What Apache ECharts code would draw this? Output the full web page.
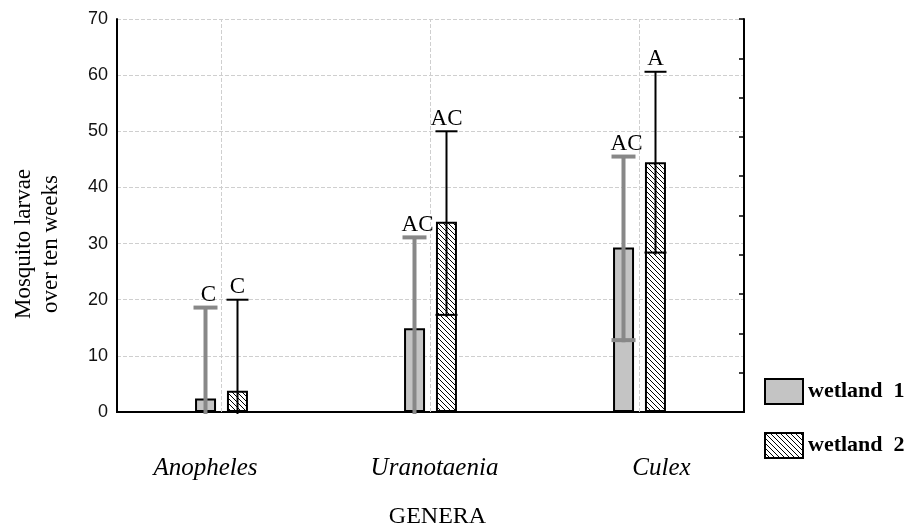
<!DOCTYPE html>
<html>
<head>
<meta charset="utf-8">
<script src="https://cdn.jsdelivr.net/npm/echarts@6/dist/echarts.min.js"></script>
<style>
  html, body { margin: 0; padding: 0; background: #fff; }
  #chart { width: 917px; height: 526px; }
</style>
</head>
<body>
<div id="chart"></div>
<script>
const categories = ['Anopheles', 'Uranotaenia', 'Culex'];
const wetland1Mean = [2.4, 14.9, 29.3];
const wetland1Lower = [0, 0, 12.8];
const wetland1Upper = [18.6, 31.1, 45.5];
const wetland1Letters = ['C', 'AC', 'AC'];
const wetland2Mean = [3.8, 33.9, 44.5];
const wetland2Lower = [0, 17.3, 28.4];
const wetland2Upper = [20.0, 50.0, 60.6];
const wetland2Letters = ['C', 'AC', 'A'];
const yTicks = [0, 10, 20, 30, 40, 50, 60, 70];

const serif = 'Liberation Serif, Times New Roman, serif';
const sans = 'Liberation Sans, Arial, sans-serif';

// diagonal hatch for wetland 2
function hatch() {
  const c = document.createElement('canvas');
  c.width = 5; c.height = 5;
  const ctx = c.getContext('2d');
  ctx.fillStyle = '#fff';
  ctx.fillRect(0, 0, 5, 5);
  ctx.strokeStyle = '#000';
  ctx.lineWidth = 1;
  ctx.beginPath();
  ctx.moveTo(-1, -1); ctx.lineTo(6, 6);
  ctx.moveTo(-1, 4); ctx.lineTo(1, 6);
  ctx.moveTo(4, -1); ctx.lineTo(6, 1);
  ctx.stroke();
  return c;
}

function errorSeries(name, lower, upper, letters, offset, color, width, capW) {
  return {
    name: name + ' err',
    type: 'custom',
    z: 5,
    data: categories.map((c, i) => [i, lower[i], upper[i]]),
    renderItem: function (params, api) {
      const lo = api.coord([api.value(0), api.value(1)]);
      const hi = api.coord([api.value(0), api.value(2)]);
      const x = lo[0] + offset;
      const st = { stroke: color, lineWidth: width };
      const kids = [
        { type: 'line', shape: { x1: x, y1: lo[1] + 2, x2: x, y2: hi[1] }, style: st },
        { type: 'line', shape: { x1: x - capW / 2, y1: hi[1], x2: x + capW / 2, y2: hi[1] }, style: st },
        { type: 'text', x: x + (offset < 0 ? 3 : 0), y: hi[1] - 1, style: {
            text: letters[params.dataIndex], fill: '#000', font: '23px ' + serif,
            align: 'center', verticalAlign: 'bottom' } }
      ];
      if (api.value(1) > 0) {
        kids.push({ type: 'line', shape: { x1: x - capW / 2, y1: lo[1], x2: x + capW / 2, y2: lo[1] }, style: st });
      }
      return { type: 'group', children: kids };
    }
  };
}

const chart = echarts.init(document.getElementById('chart'));
const option = {
  animation: false,
  grid: { left: 117, right: 173, top: 19, bottom: 114, outerBoundsMode: 'none', containLabel: false },
  graphic: [{
    type: 'text',
    x: 37,
    y: 244,
    rotation: Math.PI / 2,
    style: {
      text: 'Mosquito larvae\nover ten weeks',
      font: '23px ' + serif,
      fill: '#000',
      align: 'center',
      verticalAlign: 'middle',
      lineHeight: 27
    }
  }],
  legend: {
    orient: 'vertical',
    left: 764,
    top: 378,
    padding: 0,
    itemWidth: 38,
    itemHeight: 25,
    itemGap: 27,
    icon: 'rect',
    data: ['wetland 1', 'wetland 2'],
    formatter: n => n.replace(' ', '  '),
    itemStyle: { borderColor: '#000', borderWidth: 2 },
    textStyle: { fontFamily: serif, fontWeight: 'bold', fontSize: 22, color: '#000' }
  },
  xAxis: [{
    type: 'category',
    data: categories,
    name: 'GENERA',
    nameLocation: 'middle',
    nameGap: 93,
    nameTextStyle: { fontFamily: serif, fontSize: 24, color: '#000', padding: [0, 0, 0, 14] },
    axisLine: { lineStyle: { color: '#000', width: 2 } },
    axisTick: { inside: true, alignWithLabel: true, length: 4, lineStyle: { color: '#000' } },
    axisLabel: {
      margin: 44,
      formatter: (v, i) => '{l' + i + '|' + v + '}',
      rich: {
        l0: { fontFamily: serif, fontStyle: 'italic', fontSize: 25, color: '#000', padding: [0, 32, 0, 0] },
        l1: { fontFamily: serif, fontStyle: 'italic', fontSize: 25, color: '#000', padding: [0, 0, 0, 8] },
        l2: { fontFamily: serif, fontStyle: 'italic', fontSize: 25, color: '#000', padding: [0, 0, 0, 44] }
      }
    },
    splitLine: { show: false }
  }, {
    type: 'category',
    data: categories,
    position: 'top',
    axisLine: { lineStyle: { color: '#000', width: 2 } },
    axisTick: { inside: true, alignWithLabel: true, length: 4, lineStyle: { color: '#000' } },
    axisLabel: { show: false }
  }],
  yAxis: [{
    type: 'value',
    min: 0,
    max: 70,
    interval: 10,
    axisLine: { show: true, lineStyle: { color: '#000', width: 2 } },
    axisTick: { show: false },
    axisLabel: {
      fontFamily: sans, fontSize: 18, color: '#111', margin: 9,
      formatter: v => yTicks.includes(v) ? String(v) : ''
    },
    splitLine: { lineStyle: { color: '#cfcfcf', type: 'dashed', width: 1 } }
  }, {
    type: 'value',
    min: 0,
    max: 70,
    interval: 7,
    position: 'right',
    axisLine: { show: true, lineStyle: { color: '#000', width: 2 } },
    axisTick: { show: true, inside: true, length: 5, lineStyle: { color: '#000', width: 1.5 } },
    axisLabel: { show: false },
    splitLine: { show: false }
  }],
  series: [
    {
      name: 'grid',
      type: 'line',
      data: categories.map(() => null),
      showSymbol: false,
      silent: true,
      markLine: {
        silent: true,
        symbol: 'none',
        label: { show: false },
        lineStyle: { color: '#cfcfcf', type: 'dashed', width: 1 },
        data: categories.map(c => ({ xAxis: c }))
      }
    },
    {
      name: 'wetland 1',
      type: 'bar',
      data: wetland1Mean,
      barWidth: 21,
      barGap: '52%',
      itemStyle: { color: '#c4c4c4', borderColor: '#000', borderWidth: 2 }
    },
    {
      name: 'wetland 2',
      type: 'bar',
      data: wetland2Mean,
      barWidth: 21,
      itemStyle: { color: { image: hatch(), repeat: 'repeat' }, borderColor: '#000', borderWidth: 2 }
    },
    errorSeries('wetland 1', wetland1Lower, wetland1Upper, wetland1Letters, -16, '#888888', 4, 24),
    errorSeries('wetland 2', wetland2Lower, wetland2Upper, wetland2Letters, 16, '#000000', 2, 22)
  ]
};
chart.setOption(option);
</script>
</body>
</html>
